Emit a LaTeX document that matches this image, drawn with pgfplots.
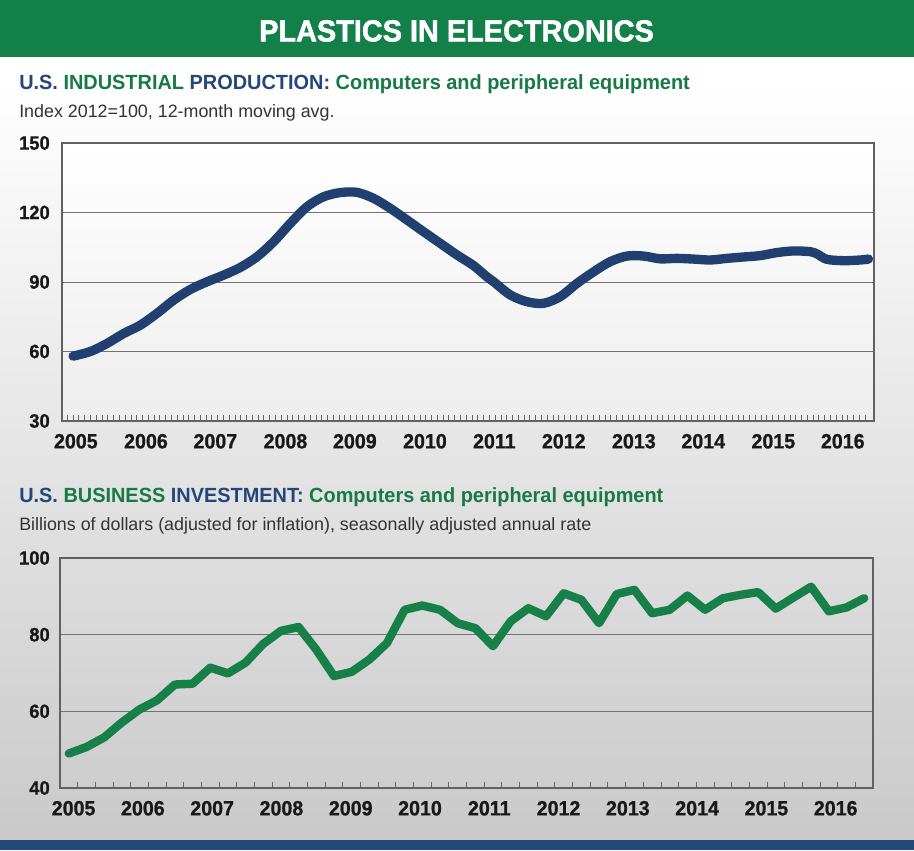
\documentclass[border=0pt]{standalone}
\usepackage{fontspec}
\setmainfont{Liberation Sans}
\newfontfamily\headfont[FakeStretch=0.97]{Liberation Sans}
\newfontfamily\titlefont[FakeStretch=0.95,FakeBold=1.6]{Liberation Sans}
\newfontfamily\tickfont[FakeStretch=0.95,FakeBold=0.8]{Liberation Sans}
\usepackage{pgfplots}
\pgfplotsset{compat=1.18}
\definecolor{barGreen}{HTML}{137F49}
\definecolor{navy}{HTML}{213F6F}
\definecolor{lineGreen}{HTML}{178049}
\definecolor{txtBlue}{HTML}{24477B}
\definecolor{txtGreen}{HTML}{177A45}
\definecolor{footBlue}{HTML}{214A78}

\pgfplotstableread{
x y
2005.00 58.0
2005.25 60.0
2005.49 63.5
2005.73 67.8
2005.97 71.4
2006.21 76.5
2006.45 82.2
2006.69 86.8
2006.93 90.1
2007.17 93.0
2007.41 96.3
2007.65 100.9
2007.89 107.4
2008.13 115.3
2008.37 122.5
2008.61 126.8
2008.85 128.6
2009.09 128.7
2009.33 126.1
2009.57 121.8
2009.81 116.8
2010.05 111.7
2010.29 106.7
2010.53 101.7
2010.77 97.1
2010.96 92.3
2011.06 90.1
2011.30 84.4
2011.54 81.5
2011.78 80.8
2012.02 83.7
2012.26 89.4
2012.50 94.4
2012.74 98.8
2012.98 101.2
2013.22 101.2
2013.46 100.0
2013.70 100.2
2013.94 99.9
2014.18 99.5
2014.42 100.2
2014.66 100.8
2014.90 101.4
2015.14 102.7
2015.38 103.4
2015.62 103.1
2015.72 102.1
2015.86 99.8
2016.10 99.2
2016.34 99.5
2016.46 99.9
}\production

\pgfplotstableread{
q y
0 49.0
1 50.7
2 53.2
3 57.1
4 60.5
5 62.9
6 67.0
7 67.2
8 71.4
9 69.9
10 72.7
11 77.6
12 81.0
13 82.0
14 76.1
15 69.2
16 70.3
17 73.5
18 77.8
19 86.5
20 87.6
21 86.5
22 83.0
23 81.7
24 77.0
25 83.5
26 86.9
27 84.8
28 90.8
29 89.1
30 83.0
31 90.6
32 91.7
33 85.6
34 86.5
35 90.2
36 86.5
37 89.5
38 90.4
39 91.1
40 86.8
41 89.7
42 92.5
43 86.1
44 87.1
45 89.5
}\investment

\pgfplotsset{
  chartstyle/.style={
    scale only axis,
    anchor=south west,
    axis line style={black!62, line width=0.9pt},
    ymajorgrids,
    grid style={black!55, line width=0.7pt},
    major tick length=0pt,
    minor tick length=4.3pt,
    minor tick style={black!60, line width=0.6pt},
    tick align=inside,
    xtick pos=bottom, ytick pos=left,
    /pgf/number format/assume math mode=true,
    xticklabel style={font=\tickfont\fontsize{15.5pt}{17pt}\selectfont\bfseries, text=black!90, inner sep=0pt, anchor=north, yshift=-9.5pt},
    yticklabel style={font=\tickfont\fontsize{14.5pt}{17pt}\selectfont\bfseries, text=black!90, inner sep=0pt, anchor=east},
    clip=false,
  }
}

\begin{document}
\begin{tikzpicture}
% background
\fill[white] (0pt,0pt) rectangle (685.5pt,-637.5pt);
\shade[top color=white, bottom color=black!21] (0pt,-60pt) rectangle (685.5pt,-630pt);
\fill[barGreen] (0pt,0pt) rectangle (685.5pt,-42.75pt);
\fill[footBlue] (0pt,-630pt) rectangle (685.5pt,-637.5pt);

\node[text=white, inner sep=0pt, font=\titlefont\fontsize{22.8pt}{24pt}\selectfont\bfseries] at (342.4pt,-23.2pt) {PLASTICS IN ELECTRONICS};

\node[anchor=base west, inner sep=0pt, font=\headfont\fontsize{15.4pt}{18pt}\selectfont\bfseries] at (14.25pt,-67pt)
  {\textcolor{txtBlue}{U.S.} \textcolor{txtGreen}{INDUSTRIAL} \textcolor{txtBlue}{PRODUCTION:} \textcolor{txtGreen}{Computers and peripheral equipment}};
\node[anchor=base west, inner sep=0pt, text=black!80, font=\fontsize{13.4pt}{16pt}\selectfont] at (14.25pt,-87.75pt)
  {Index 2012=100, 12-month moving avg.};

\node[anchor=base west, inner sep=0pt, font=\headfont\fontsize{15.4pt}{18pt}\selectfont\bfseries] at (14.25pt,-376.9pt)
  {\textcolor{txtBlue}{U.S.} \textcolor{txtGreen}{BUSINESS} \textcolor{txtBlue}{INVESTMENT:} \textcolor{txtGreen}{Computers and peripheral equipment}};
\node[anchor=base west, inner sep=0pt, text=black!80, font=\fontsize{13.4pt}{16pt}\selectfont] at (14.25pt,-397.9pt)
  {Billions of dollars (adjusted for inflation), seasonally adjusted annual rate};

\begin{axis}[chartstyle,
  at={(46.5pt,-315.75pt)}, width=609pt, height=208.5pt,
  axis background/.style={shade, top color=white, bottom color=black!7},
  xmin=2004.84, xmax=2016.54, ymin=30, ymax=150,
  ytick={30,60,90,120,150}, yticklabels={30,60,90,120,150},
  yticklabel style={xshift=-9pt},
  xtick={2005.04,2006.05,2007.05,2008.06,2009.06,2010.07,2011.07,2012.07,2013.08,2014.08,2015.09,2016.09},
  xticklabels={2005,2006,2007,2008,2009,2010,2011,2012,2013,2014,2015,2016},
  minor xtick={2004.91667,2005,...,2016.42},
]
\addplot[navy, line width=7pt, smooth, line cap=round, line join=round] table[x=x, y=y] {\production};
\end{axis}

\begin{axis}[chartstyle,
  at={(45pt,-591pt)}, width=609.75pt, height=172.5pt,
  xmin=-0.5, xmax=45.5, ymin=40, ymax=100,
  ytick={40,60,80,100}, yticklabels={40,60,80,100},
  yticklabel style={xshift=-7.5pt},
  xtick={0.27,4.19,8.11,12.03,15.95,19.87,23.79,27.71,31.63,35.55,39.47,43.39},
  xticklabels={2005,2006,2007,2008,2009,2010,2011,2012,2013,2014,2015,2016},
  minor xtick={0.5,1.5,...,44.5},
]
\addplot[lineGreen, line width=6.3pt, line cap=round, line join=round] table[x=q, y=y] {\investment};
\end{axis}
\end{tikzpicture}
\end{document}
